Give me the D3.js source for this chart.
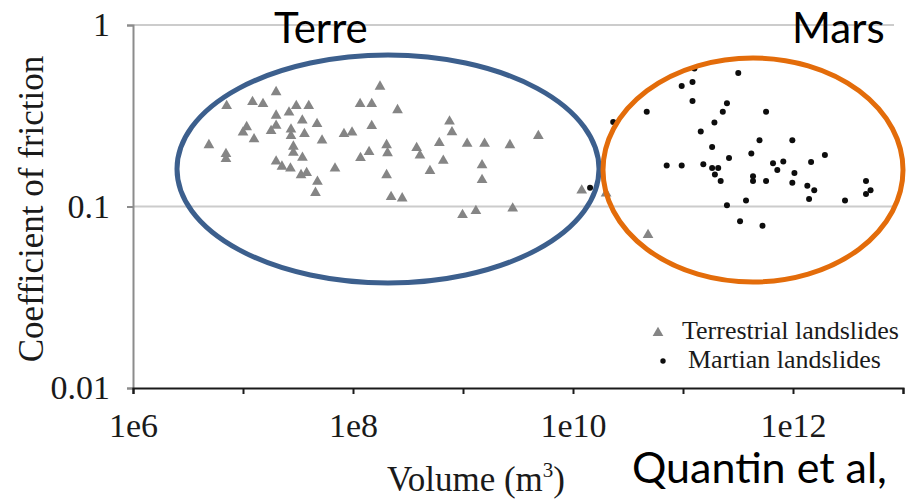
<!DOCTYPE html>
<html>
<head>
<meta charset="utf-8">
<script src="https://cdn.jsdelivr.net/npm/d3@7"></script>
<style>
  html, body { margin: 0; padding: 0; background: #fff; }
  svg { display: block; }
</style>
</head>
<body>
<svg id="chart" width="907" height="502"></svg>
<script>
// ---- data ----
const terrVolume = [
  4.9e6, 7.1e6, 7.0e6, 7.0e6, 1.0e7, 1.08e7, 1.22e7, 1.26e7, 1.52e7, 1.8e7,
  2.0e7, 2.0e7, 2.0e7, 2.0e7, 2.26e7, 2.62e7, 2.73e7, 2.73e7, 2.7e7, 2.87e7,
  2.87e7, 3.05e7, 3.46e7, 3.47e7, 3.37e7, 3.62e7, 3.79e7, 3.96e7, 4.71e7, 4.75e7,
  4.56e7, 5.23e7, 6.86e7, 8.28e7, 9.8e7, 1.16e8, 1.48e8, 1.76e8, 2.54e8, 1.48e8,
  1.17e8, 1.40e8, 2.02e8, 2.06e8, 2.02e8, 2.22e8, 2.80e8, 3.79e8, 4.06e8, 5.01e8,
  6.09e8, 6.62e8, 7.54e8, 7.94e8, 1.09e9, 1.57e9, 2.67e9, 4.84e9, 1.49e9, 1.49e9,
  9.9e8, 1.31e9, 2.83e9, 1.20e10, 2.0e10, 4.81e10
];
const terrFriction = [
  0.218, 0.358, 0.195, 0.183, 0.256, 0.274, 0.377, 0.235, 0.367, 0.261,
  0.427, 0.317, 0.279, 0.177, 0.166, 0.330, 0.266, 0.245, 0.162, 0.214,
  0.198, 0.358, 0.298, 0.186, 0.149, 0.251, 0.153, 0.358, 0.285, 0.137,
  0.119, 0.231, 0.162, 0.251, 0.256, 0.367, 0.367, 0.458, 0.340, 0.278,
  0.185, 0.200, 0.218, 0.197, 0.149, 0.113, 0.111, 0.210, 0.191, 0.157,
  0.224, 0.179, 0.294, 0.257, 0.222, 0.222, 0.218, 0.245, 0.169, 0.140,
  0.0898, 0.0945, 0.0977, 0.1225, 0.118, 0.0697
];
const marsVolume = [
  1.27e11, 3.18e11, 9.73e10, 1.22e11, 1.22e11, 2.51e11, 2.30e11, 4.68e10, 5.69e11, 1.93e11,
  1.45e11, 2.32e10, 4.96e11, 9.86e11, 1.84e11, 4.18e11, 1.95e12, 2.62e11, 7.11e10, 9.73e10,
  1.53e11, 1.84e11, 2.09e11, 1.95e11, 2.20e11, 6.58e11, 8.16e11, 7.2e11, 1.46e12, 4.33e11,
  4.33e11, 5.69e11, 1.03e12, 9.86e11, 1.35e12, 1.56e12, 1.40e12, 4.61e12, 5.07e12, 4.61e12,
  2.97e12, 3.74e11, 2.51e11, 3.30e11, 5.28e11, 1.43e10
];
const marsFriction = [
  0.575, 0.544, 0.461, 0.485, 0.381, 0.370, 0.333, 0.333, 0.333, 0.290,
  0.259, 0.292, 0.232, 0.232, 0.213, 0.196, 0.192, 0.185, 0.168, 0.168,
  0.171, 0.163, 0.163, 0.150, 0.138, 0.173, 0.177, 0.159, 0.176, 0.147,
  0.138, 0.138, 0.153, 0.135, 0.130, 0.123, 0.110, 0.138, 0.123, 0.117,
  0.108, 0.108, 0.1015, 0.0829, 0.0783, 0.127
];
const xTickValues = [1e6, 1e7, 1e8, 1e9, 1e10, 1e11, 1e12, 1e13];
const xTickLabels = {1e6: "1e6", 1e8: "1e8", 1e10: "1e10", 1e12: "1e12"};
const yTickValues = [0.01, 0.1, 1];
const yTickLabels = ["0.01", "0.1", "1"];
const yGridValues = [0.1, 1];
const seriesNames = ["Terrestrial landslides", "Martian landslides"];
const regionLabels = ["Terre", "Mars"];
const xTitle = "Volume (m";
const yTitle = "Coefficient of friction";
const citation = "Quantin et al,";

// ---- drawing ----
const svg = d3.select("#chart");
const serif = "'Liberation Serif', 'Times New Roman', serif";
const sans = "Lato, 'Open Sans', sans-serif";

const x = d3.scaleLog().domain([1e6, 1e13]).range([133, 903]);
const y = d3.scaleLog().domain([0.01, 1]).range([388, 25]);

// gridlines
svg.append("g").selectAll("line").data(yGridValues).join("line")
  .attr("x1", x(1e6)).attr("x2", 894)
  .attr("y1", d => y(d)).attr("y2", d => y(d))
  .attr("stroke", "#cccccc").attr("stroke-width", 2);

// y axis
const yAxis = svg.append("g").attr("transform", `translate(${x(1e6)},0)`)
  .call(d3.axisLeft(y).tickValues(yTickValues)
    .tickFormat((d, i) => yTickLabels[i]).tickSize(6).tickPadding(17));
yAxis.select(".domain").attr("stroke", "#8c8c8c").attr("stroke-width", 2);
yAxis.selectAll(".tick line").attr("stroke", "#8c8c8c").attr("stroke-width", 2);
yAxis.selectAll(".tick text").attr("font-family", serif).attr("font-size", 34).attr("fill", "#1a1a1a");

// x axis
const xAxis = svg.append("g").attr("transform", `translate(0,${y(0.01)})`)
  .call(d3.axisBottom(x).tickValues(xTickValues)
    .tickFormat(d => xTickLabels[d] || "").tickSize(6).tickPadding(19));
xAxis.select(".domain").attr("stroke", "#1a1a1a").attr("stroke-width", 2);
xAxis.selectAll(".tick line").attr("stroke", "#1a1a1a").attr("stroke-width", 2);
xAxis.selectAll(".tick text").attr("font-family", serif).attr("font-size", 34).attr("fill", "#1a1a1a");

// axis titles
const xt = svg.append("text").attr("x", 476).attr("y", 491).attr("text-anchor", "middle")
  .attr("font-family", serif).attr("font-size", 35).attr("fill", "#1a1a1a");
xt.append("tspan").text(xTitle);
xt.append("tspan").text("3").attr("font-size", 21).attr("dy", -14);
xt.append("tspan").text(")").attr("dy", 14);

svg.append("text").attr("transform", "translate(43,209) rotate(-90)")
  .attr("text-anchor", "middle").attr("font-family", serif).attr("font-size", 35)
  .attr("fill", "#1a1a1a").text(yTitle);

// points
const terr = terrVolume.map((v, i) => ({v, f: terrFriction[i]}));
const mars = marsVolume.map((v, i) => ({v, f: marsFriction[i]}));
const tri = d3.symbol().type(d3.symbolTriangle).size(50);

svg.append("g").selectAll("path").data(terr).join("path")
  .attr("d", tri)
  .attr("transform", d => `translate(${x(d.v)},${y(d.f)})`)
  .attr("fill", "#858585");

svg.append("g").selectAll("circle").data(mars).join("circle")
  .attr("cx", d => x(d.v)).attr("cy", d => y(d.f)).attr("r", 3)
  .attr("fill", "#0d0d0d");

// legend
const lg = svg.append("g");
lg.append("path").attr("d", tri).attr("transform", "translate(658,333)").attr("fill", "#858585");
lg.append("circle").attr("cx", 663).attr("cy", 361).attr("r", 2.7).attr("fill", "#0d0d0d");
lg.append("text").attr("x", 682).attr("y", 339).attr("font-family", serif).attr("font-size", 26)
  .attr("fill", "#1a1a1a").text(seriesNames[0]);
lg.append("text").attr("x", 688).attr("y", 368).attr("font-family", serif).attr("font-size", 26)
  .attr("fill", "#1a1a1a").text(seriesNames[1]);

// overlay ellipses
svg.append("ellipse").attr("cx", 388).attr("cy", 169).attr("rx", 211).attr("ry", 114)
  .attr("fill", "none").attr("stroke", "#3c5f8d").attr("stroke-width", 5);
svg.append("ellipse").attr("cx", 753).attr("cy", 170).attr("rx", 150).attr("ry", 112)
  .attr("fill", "none").attr("stroke", "#e36c0a").attr("stroke-width", 5);

// overlay texts
svg.append("text").attr("x", 274).attr("y", 43).attr("font-family", sans).attr("font-size", 42)
  .attr("fill", "#000").text(regionLabels[0]);
svg.append("text").attr("x", 792).attr("y", 43).attr("font-family", sans).attr("font-size", 42)
  .attr("fill", "#000").text(regionLabels[1]);
svg.append("text").attr("x", 632).attr("y", 483).attr("font-family", sans).attr("font-size", 43)
  .attr("fill", "#000").text(citation);
</script>
</body>
</html>
